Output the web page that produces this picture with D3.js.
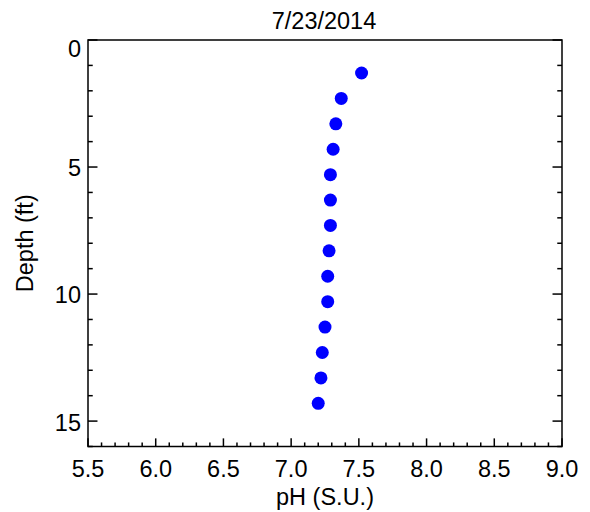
<!DOCTYPE html>
<html>
<head>
<meta charset="utf-8">
<script src="https://cdn.jsdelivr.net/npm/d3@7"></script>
<style>
  html, body { margin: 0; padding: 0; background: #fff; }
  svg { display: block; }
  text { font-family: "Liberation Sans", Arial, Helvetica, sans-serif; fill: #000; }
</style>
</head>
<body>
<svg id="chart" width="590" height="512"></svg>
<script>
// pH profile, 7/23/2014
const depthFt = [1.3, 2.3, 3.3, 4.3, 5.3, 6.3, 7.3, 8.3, 9.3, 10.3, 11.3, 12.3, 13.3, 14.3];
const phValues = [7.52, 7.37, 7.33, 7.31, 7.29, 7.29, 7.29, 7.28, 7.27, 7.27, 7.25, 7.23, 7.22, 7.20];
const xTicks = [5.5, 6.0, 6.5, 7.0, 7.5, 8.0, 8.5, 9.0];
const yTicks = [0, 5, 10, 15];
const titleText = "7/23/2014";
const xTitle = "pH (S.U.)";
const yTitle = "Depth (ft)";

const svg = d3.select("#chart");
const m = { left: 88, right: 562, top: 40, bottom: 446.5 };
const fontSize = 23.5;

const x = d3.scaleLinear().domain([5.5, 9.0]).range([m.left, m.right]);
const y = d3.scaleLinear().domain([0, 16]).range([m.top, m.bottom]);

const plotW = m.right - m.left, plotH = m.bottom - m.top;
const yMajor = 0.02 * plotW, yMinor = yMajor / 2;
const xMajor = 0.02 * plotH, xMinor = xMajor / 2;

const axisG = svg.append("g").attr("stroke", "#000").attr("stroke-width", 1.5).attr("fill", "none");

// frame
axisG.append("rect")
  .attr("x", m.left).attr("y", m.top)
  .attr("width", plotW).attr("height", plotH);

// bottom axis ticks (pointing inward)
const xMinorVals = d3.range(0, 36).map(i => 5.5 + i * 0.1);
xMinorVals.forEach(v => {
  const major = xTicks.some(t => Math.abs(t - v) < 1e-6);
  const len = major ? xMajor : xMinor;
  axisG.append("line")
    .attr("x1", x(v)).attr("x2", x(v))
    .attr("y1", m.bottom).attr("y2", m.bottom - len);
});

// left and right axis ticks
d3.range(0, 17).forEach(v => {
  const major = yTicks.includes(v);
  const len = major ? yMajor : yMinor;
  axisG.append("line")
    .attr("x1", m.left).attr("x2", m.left + len)
    .attr("y1", y(v)).attr("y2", y(v));
  axisG.append("line")
    .attr("x1", m.right).attr("x2", m.right - len)
    .attr("y1", y(v)).attr("y2", y(v));
});

// tick labels
svg.append("g").selectAll("text").data(xTicks).join("text")
  .attr("x", d => x(d)).attr("y", m.bottom + 30.5)
  .attr("text-anchor", "middle").attr("font-size", fontSize)
  .text(d => d.toFixed(1));

const capH = fontSize * 0.716;
svg.append("g").selectAll("text").data(yTicks).join("text")
  .attr("x", m.left - 7).attr("y", d => Math.max(y(d) + capH / 2 + 1, m.top + capH))
  .attr("text-anchor", "end").attr("font-size", fontSize)
  .text(d => d);

// titles
svg.append("text").attr("x", 324).attr("y", 29)
  .attr("text-anchor", "middle").attr("font-size", fontSize).text(titleText);
svg.append("text").attr("x", (m.left + m.right) / 2).attr("y", 505)
  .attr("text-anchor", "middle").attr("font-size", fontSize).text(xTitle);
svg.append("text")
  .attr("transform", `translate(33,${(m.top + m.bottom) / 2}) rotate(-90)`)
  .attr("text-anchor", "middle").attr("font-size", fontSize).text(yTitle);

// data points
svg.append("g").selectAll("circle").data(depthFt).join("circle")
  .attr("cx", (d, i) => x(phValues[i]))
  .attr("cy", d => y(d))
  .attr("r", 6.5)
  .attr("fill", "#0000ff");
</script>
</body>
</html>
